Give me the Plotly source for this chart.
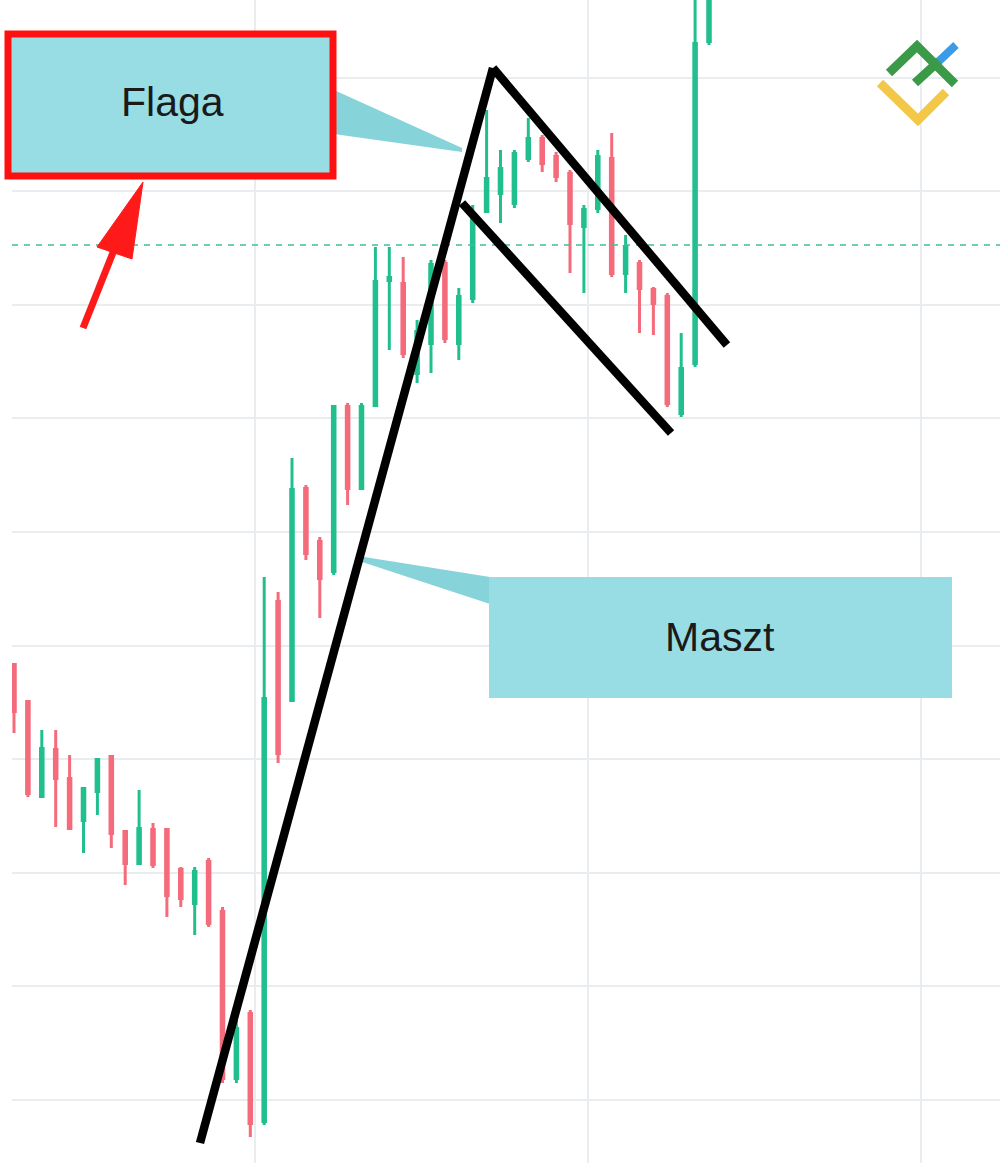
import plotly.graph_objects as go

# ---------------- data (price units) ----------------
candle_index = list(range(51))
open_ = [500, 463, 365, 415, 386, 341, 370, 408, 333, 298,
         335, 335, 295, 258, 303, 253, 83, 151, 40, 563,
         461, 676, 623, 590, 758, 673, 756, 881, 881, 788,
         818, 901, 818, 863, 950, 968, 958, 1003, 1026, 1008,
         991, 935, 953, 1006, 888, 901, 875, 868, 748, 798, 1120]
high = [500, 463, 433, 433, 408, 376, 405, 408, 333, 373,
        340, 335, 296, 296, 305, 256, 143, 153, 586, 571,
        705, 678, 626, 758, 760, 760, 916, 916, 906, 843,
        903, 903, 875, 958, 1053, 1013, 1013, 1045, 1028, 1011,
        993, 958, 1013, 1030, 928, 903, 876, 870, 830, 1183, 1203]
low = [430, 366, 365, 336, 333, 310, 348, 315, 278, 298,
       295, 246, 256, 228, 236, 80, 80, 26, 38, 400,
       461, 603, 545, 588, 658, 673, 756, 813, 805, 780,
       790, 820, 803, 860, 950, 940, 955, 1001, 991, 981,
       890, 870, 950, 886, 870, 830, 828, 756, 746, 796, 1118]
close = [450, 368, 416, 383, 333, 376, 405, 328, 298, 336,
         297, 266, 263, 293, 238, 83, 136, 38, 466, 408,
         675, 608, 583, 758, 673, 758, 883, 887, 808, 833,
         900, 823, 868, 948, 986, 996, 1011, 1026, 998, 985,
         938, 955, 1008, 888, 918, 873, 858, 758, 796, 1121, 1193]

resistance_level = 918           # dashed horizontal level
mast_x = [13.38, 34.46]          # pattern drawing (index, price)
mast_y = [20, 1095]
flag_upper_x = [34.46, 51.29]
flag_upper_y = [1095, 818]
flag_lower_x = [32.23, 47.27]
flag_lower_y = [960, 730]

labels = ["Flaga", "Maszt"]

# ---------------- styling ----------------
GREEN = "#22bf8e"
RED = "#f46b7b"
TEAL = "#98dde3"
TEAL_D = "#86d3da"
GRID = "#e9edf0"
W, H = 1000, 1163
ML = 12


def PX(x):
    return (x - ML) / (W - ML)


def PY(y):
    return 1 - y / H


fig = go.Figure()

# wicks
for up, col in ((True, GREEN), (False, RED)):
    xs, ys = [], []
    for i, o, h, l, c in zip(candle_index, open_, high, low, close):
        if (c >= o) == up:
            xs += [i, i, None]
            ys += [l, h, None]
    fig.add_trace(go.Scatter(x=xs, y=ys, mode="lines",
                             line=dict(color=col, width=3),
                             hoverinfo="skip", showlegend=False))

# bodies
bases = [min(o, c) for o, c in zip(open_, close)]
heights = [max(abs(c - o), 2) for o, c in zip(open_, close)]
colors = [GREEN if c >= o else RED for o, c in zip(open_, close)]
fig.add_trace(go.Bar(x=candle_index, y=heights, base=bases, width=0.4,
                     marker=dict(color=colors, line=dict(width=0)),
                     showlegend=False))

shapes = []
# dashed level
shapes.append(dict(type="line", xref="paper", yref="y", x0=0, x1=1,
                   y0=resistance_level, y1=resistance_level,
                   line=dict(color="#3fbf9a", width=1.5, dash="6px,6px")))

# callout wedges
shapes.append(dict(type="path", xref="paper", yref="paper",
                   path=f"M{PX(334)},{PY(90)} L{PX(462)},{PY(148)} L{PX(462)},{PY(152)} L{PX(334)},{PY(134)} Z",
                   fillcolor=TEAL_D, line=dict(width=0)))
shapes.append(dict(type="path", xref="paper", yref="paper",
                   path=f"M{PX(358)},{PY(556)} L{PX(490)},{PY(577)} L{PX(490)},{PY(604)} L{PX(356)},{PY(560)} Z",
                   fillcolor=TEAL_D, line=dict(width=0)))

# pattern lines
for xs, ys in ((mast_x, mast_y), (flag_upper_x, flag_upper_y), (flag_lower_x, flag_lower_y)):
    shapes.append(dict(type="line", xref="x", yref="y", x0=xs[0], x1=xs[1],
                       y0=ys[0], y1=ys[1], line=dict(color="black", width=8.5)))

# boxes
shapes.append(dict(type="rect", xref="paper", yref="paper",
                   x0=PX(8), x1=PX(333), y0=PY(176), y1=PY(34),
                   fillcolor=TEAL, line=dict(color="#ff1010", width=7)))
shapes.append(dict(type="rect", xref="paper", yref="paper",
                   x0=PX(489), x1=PX(952), y0=PY(698), y1=PY(577),
                   fillcolor=TEAL, line=dict(width=0)))

# red arrow
shapes.append(dict(type="line", xref="paper", yref="paper",
                   x0=PX(83), y0=PY(328), x1=PX(116), y1=PY(245),
                   line=dict(color="#ff1a1a", width=7)))
shapes.append(dict(type="path", xref="paper", yref="paper",
                   path=f"M{PX(143)},{PY(182)} L{PX(97)},{PY(247)} L{PX(132)},{PY(259)} Z",
                   fillcolor="#ff1a1a", line=dict(color="#ff1a1a", width=1)))

# logo
shapes.append(dict(type="path", xref="paper", yref="paper",
                   path=f"M{PX(880)},{PY(83)} L{PX(918)},{PY(120)} L{PX(946)},{PY(92)}",
                   line=dict(color="#f3c846", width=9)))
shapes.append(dict(type="path", xref="paper", yref="paper",
                   path=f"M{PX(938)},{PY(62)} L{PX(956)},{PY(45)}",
                   line=dict(color="#3d9be6", width=8)))
shapes.append(dict(type="path", xref="paper", yref="paper",
                   path=f"M{PX(889)},{PY(73)} L{PX(917)},{PY(46)} L{PX(955)},{PY(84)}",
                   line=dict(color="#3a9a48", width=9)))
shapes.append(dict(type="path", xref="paper", yref="paper",
                   path=f"M{PX(915)},{PY(83)} L{PX(939)},{PY(61)}",
                   line=dict(color="#3a9a48", width=9)))

annotations = [
    dict(text=labels[0], xref="paper", yref="paper", x=PX(172), y=PY(102),
         xanchor="center", yanchor="middle", showarrow=False,
         font=dict(family="Liberation Sans, Arial", size=41, color="#1a1a1a")),
    dict(text=labels[1], xref="paper", yref="paper", x=PX(720), y=PY(637),
         xanchor="center", yanchor="middle", showarrow=False,
         font=dict(family="Liberation Sans, Arial", size=41, color="#1a1a1a")),
]

fig.update_layout(
    width=W, height=H,
    margin=dict(l=ML, r=0, t=0, b=0),
    paper_bgcolor="white", plot_bgcolor="white",
    showlegend=False, barmode="overlay",
    shapes=shapes, annotations=annotations,
    xaxis=dict(range=[(ML - 14) / 13.9, (W - 14) / 13.9], showgrid=True,
               gridcolor=GRID, gridwidth=1.5, tick0=17.34, dtick=23.97,
               showticklabels=False, zeroline=False, showline=False, ticks=""),
    yaxis=dict(range=[0, H], showgrid=True, gridcolor=GRID, gridwidth=1.5,
               tick0=63, dtick=113.6, showticklabels=False, zeroline=False,
               showline=False, ticks=""),
)

fig.write_html("out.html", config={"displayModeBar": False},
               post_script="document.body.style.margin='0';")
